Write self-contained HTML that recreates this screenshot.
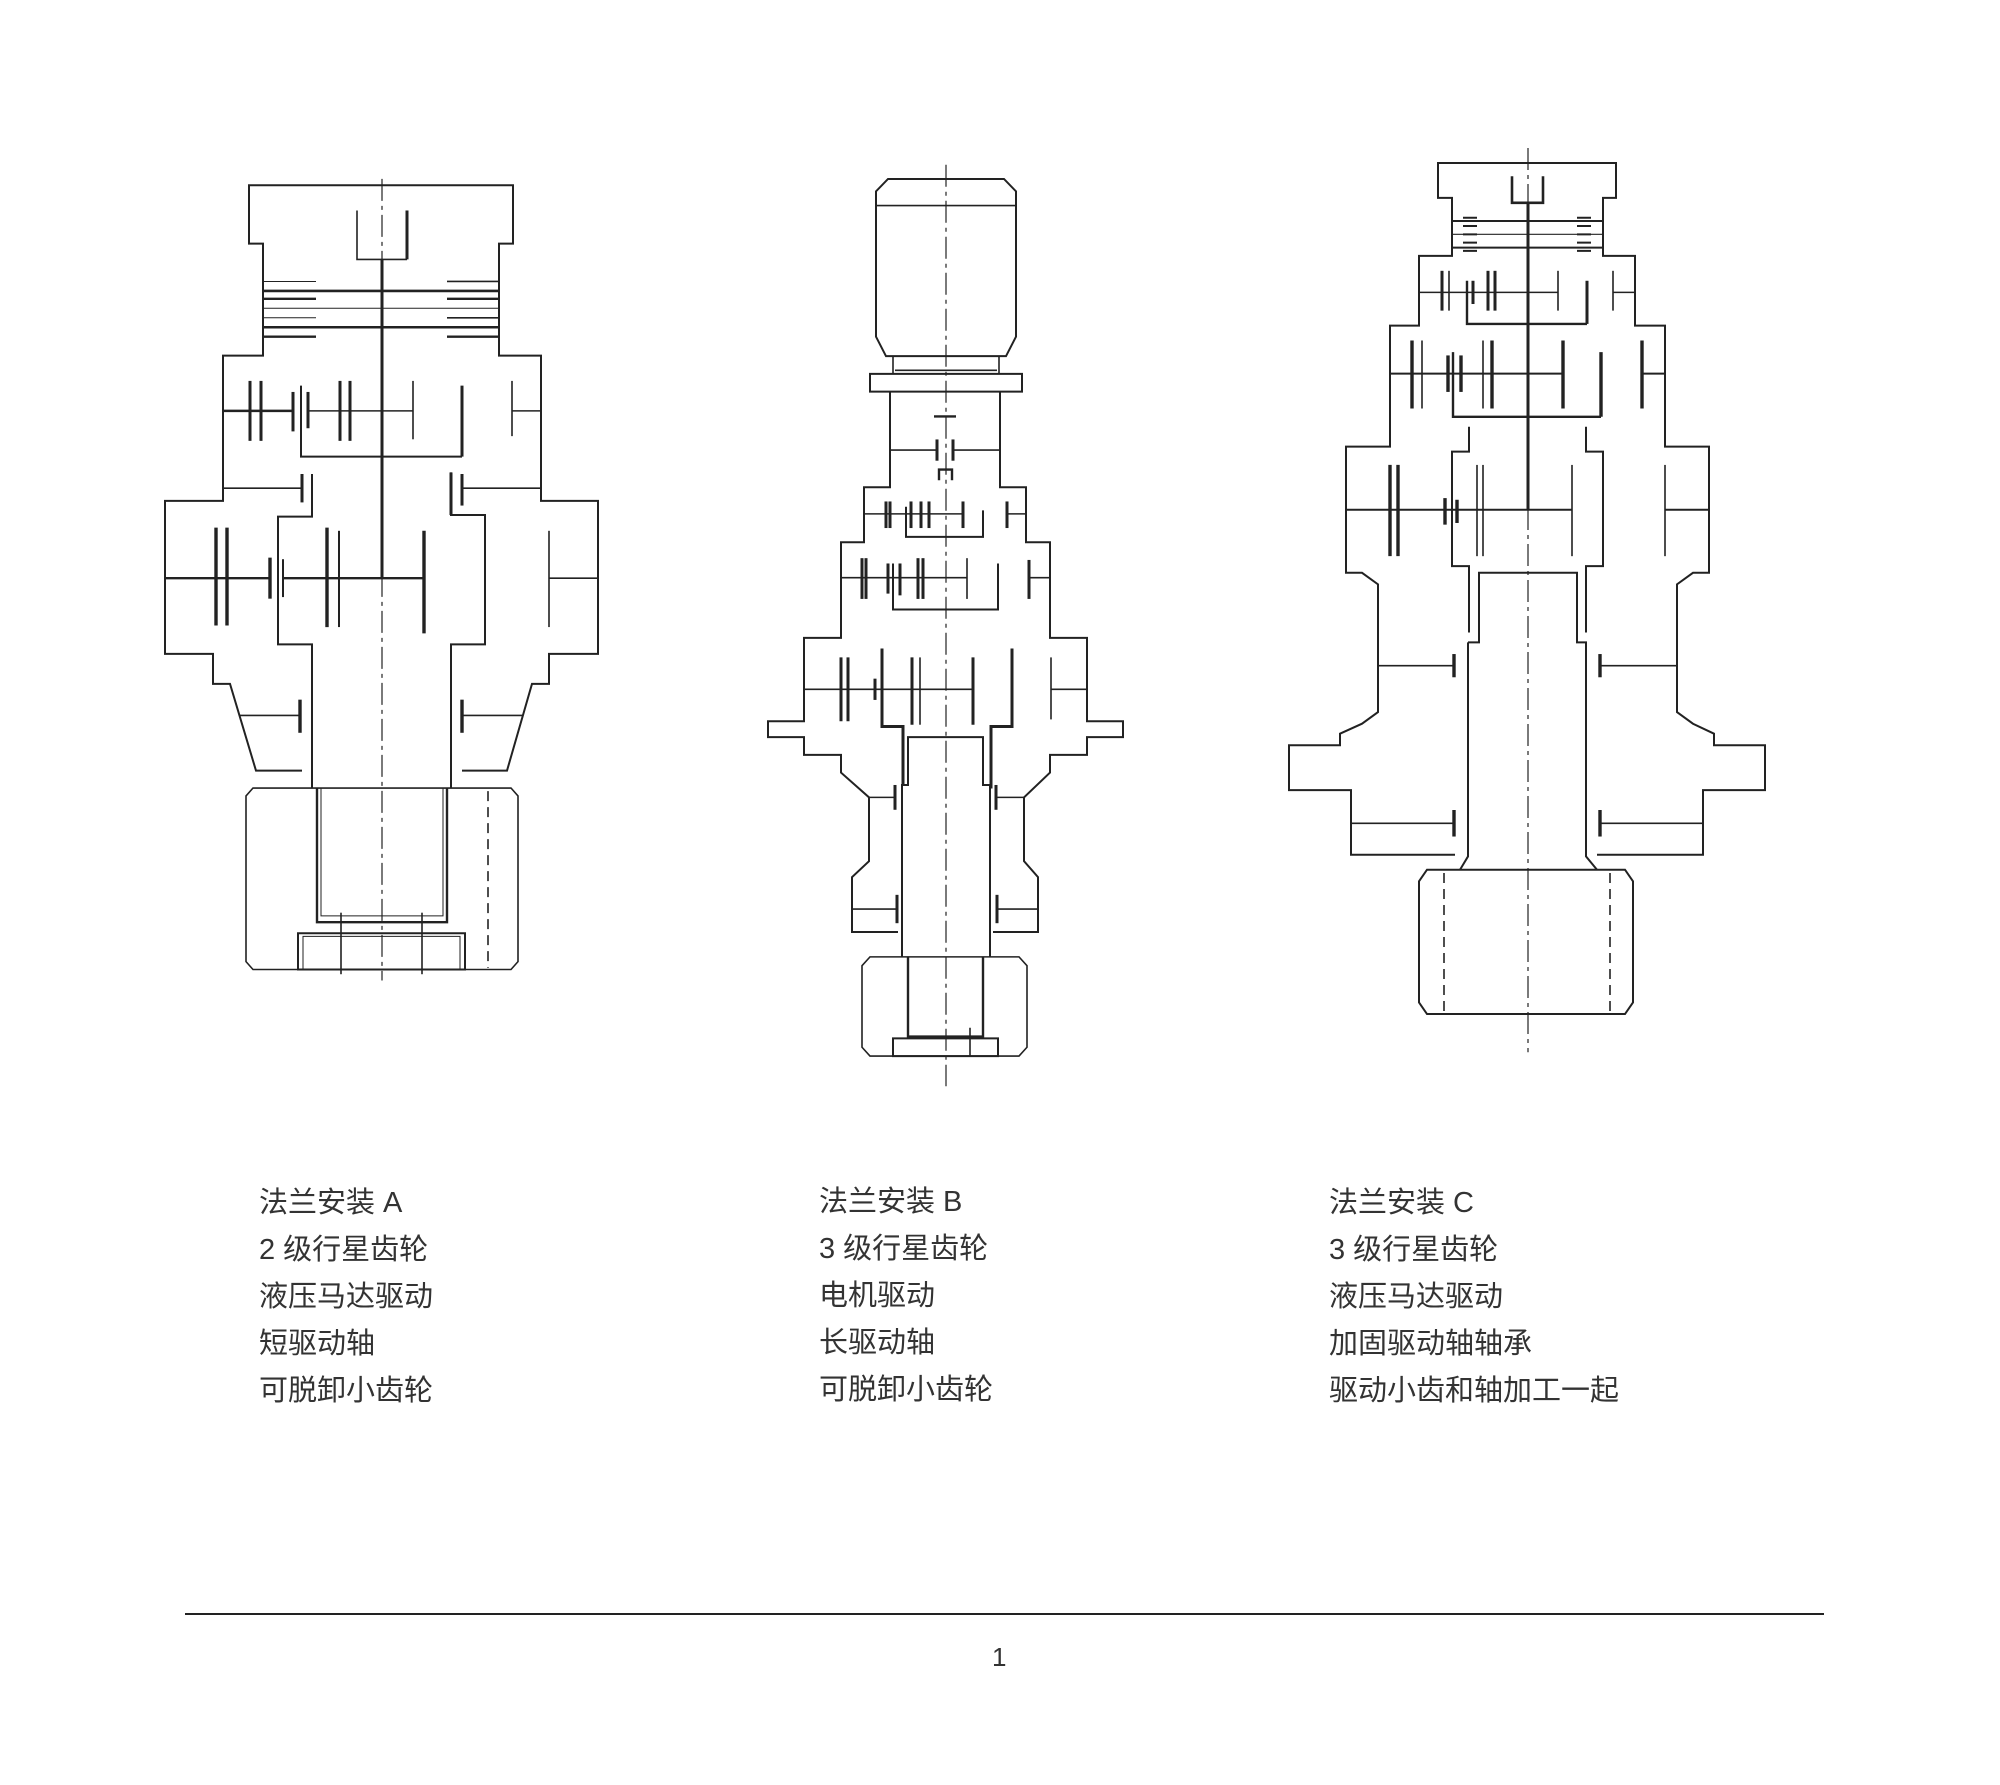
<!DOCTYPE html>
<html><head><meta charset="utf-8"><style>
html,body{margin:0;padding:0;background:#fff}
svg{display:block}
text{font-family:"Liberation Sans","Noto Sans CJK SC",sans-serif;font-size:29px;fill:#333}
.d *{vector-effect:non-scaling-stroke}
</style></head><body>
<svg width="2000" height="1785" viewBox="0 0 2000 1785" xmlns="http://www.w3.org/2000/svg">
<g fill="none" stroke="#222" stroke-width="1.6" stroke-linejoin="miter">
<!-- ============ A ============ -->
<g class="d" transform="matrix(1,0,0,1.578,0,-92.5)">
<path d="M302 547 L256 547 L230 492 L213 492 L213 473 L165 473 L165 376 L223 376 L223 284 L263 284 L263 213 L249 213 L249 176 L513 176 L513 213 L499 213 L499 284 L541 284 L541 376 L598 376 L598 473 L549 473 L549 492 L532 492 L507 547 L462 547" stroke-width="2"/>
<path d="M312 359 L312 386 L278 386 L278 467 L312 467 L312 558" stroke-width="2"/>
<path d="M451 358 L451 385 L485 385 L485 467 L451 467 L451 558" stroke-width="2"/>
<path d="M253 558 L511 558 L518 563 L518 668 L511 673 L253 673 L246 668 L246 563 Z"/>
<path d="M317 558 L317 643 L447 643 L447 558" stroke-width="2.4"/>
<path d="M321 558 L321 639 L443 639 L443 558" stroke-width="1"/>
<rect x="298" y="650" width="167" height="23" stroke-width="2"/>
<rect x="303" y="652" width="157" height="21" stroke-width="1"/>
<line x1="341" y1="637" x2="341" y2="676"/><line x1="422" y1="637" x2="422" y2="676"/>
<line x1="488" y1="560" x2="488" y2="672" stroke-dasharray="10 6"/>
<line x1="382" y1="172" x2="382" y2="680" stroke-dasharray="22 5 4 5" stroke-width="1.2"/>
<line x1="382" y1="223" x2="382" y2="425" stroke-width="3"/>
<path d="M357 192 L357 223 L407 223" /><line x1="407" y1="192" x2="407" y2="223" stroke-width="3"/>
<line x1="263" y1="243" x2="499" y2="243" stroke-width="2.6"/>
<line x1="263" y1="266" x2="499" y2="266" stroke-width="2.6"/>
<line x1="263" y1="254" x2="499" y2="254" stroke-width="1"/>
<line x1="263" y1="237" x2="316" y2="237" stroke-width="1"/><line x1="447" y1="237" x2="499" y2="237"/>
<line x1="263" y1="248" x2="316" y2="248" stroke-width="2.4"/><line x1="447" y1="248" x2="499" y2="248" stroke-width="2.4"/>
<line x1="263" y1="260" x2="316" y2="260" stroke-width="1"/><line x1="447" y1="260" x2="499" y2="260"/>
<line x1="263" y1="272" x2="316" y2="272" stroke-width="2.4"/><line x1="447" y1="272" x2="499" y2="272" stroke-width="2.4"/>
<line x1="223" y1="319" x2="293" y2="319" stroke-width="2.4"/>
<line x1="308" y1="319" x2="413" y2="319"/>
<g stroke-width="3"><line x1="250" y1="300" x2="250" y2="338"/><line x1="261" y1="300" x2="261" y2="338"/><line x1="293" y1="307" x2="293" y2="332"/><line x1="308" y1="307" x2="308" y2="330"/><line x1="340" y1="300" x2="340" y2="338"/><line x1="350" y1="300" x2="350" y2="338"/><line x1="462" y1="303" x2="462" y2="348"/></g>
<line x1="413" y1="300" x2="413" y2="337"/>
<path d="M301 303 L301 348 L462 348" stroke-width="2"/>
<line x1="512" y1="300" x2="512" y2="335"/><line x1="512" y1="319" x2="541" y2="319"/>
<line x1="223" y1="368" x2="302" y2="368"/>
<line x1="302" y1="359" x2="302" y2="377" stroke-width="3"/>
<line x1="451" y1="358" x2="451" y2="385" stroke-width="3"/>
<line x1="462" y1="359" x2="462" y2="379" stroke-width="3"/>
<line x1="462" y1="368" x2="541" y2="368"/>
<line x1="165" y1="425" x2="270" y2="425" stroke-width="2.4"/>
<line x1="283" y1="425" x2="424" y2="425" stroke-width="2.4"/>
<g stroke-width="3.4"><line x1="216" y1="393" x2="216" y2="455"/><line x1="227" y1="393" x2="227" y2="455"/><line x1="270" y1="412" x2="270" y2="438"/><line x1="327" y1="393" x2="327" y2="456"/><line x1="424" y1="395" x2="424" y2="460"/></g>
<line x1="283" y1="413" x2="283" y2="437" stroke-width="2"/>
<line x1="339" y1="395" x2="339" y2="456" stroke-width="2"/>
<line x1="549" y1="395" x2="549" y2="456"/><line x1="549" y1="425" x2="598" y2="425"/>
<line x1="240" y1="512" x2="300" y2="512"/><line x1="300" y1="502" x2="300" y2="523" stroke-width="3.4"/>
<line x1="462" y1="512" x2="523" y2="512"/><line x1="462" y1="502" x2="462" y2="523" stroke-width="3.4"/>
</g>

<!-- ============ B ============ -->
<g class="d" transform="matrix(1,0,0,1.772,0,-127.6)">
<path d="M888 173 L1004 173 L1016 180 L1016 262 L1006 273 L886 273 L876 262 L876 180 Z" stroke-width="2"/>
<line x1="876" y1="188" x2="1016" y2="188"/>
<path d="M893 273 L893 283 M999 273 L999 283 M895 281 L997 281"/>
<path d="M870 283 L1022 283 L1022 293 L870 293 Z" stroke-width="2"/>
<path d="M898 598 L852 598 L852 567 L869 558 L869 522 L841 508 L841 498 L804 498 L804 488 L768 488 L768 479 L804 479 L804 432 L841 432 L841 378 L864 378 L864 347 L890 347 L890 293" stroke-width="2"/>
<path d="M993 598 L1038 598 L1038 567 L1024 558 L1024 522 L1050 508 L1050 498 L1087 498 L1087 488 L1123 488 L1123 479 L1087 479 L1087 432 L1050 432 L1050 378 L1026 378 L1026 347 L1000 347 L1000 293" stroke-width="2"/>
<path d="M902 612 L902 515 L908 515 L908 488 L983 488 L983 515 L990 515 L990 612" stroke-width="2"/>
<path d="M870 612 L1019 612 L1027 617 L1027 663 L1019 668 L870 668 L862 663 L862 617 Z"/>
<path d="M908 612 L908 657 L983 657 L983 612" stroke-width="2.4"/>
<rect x="893" y="658" width="105" height="10" stroke-width="2"/>
<line x1="970" y1="652" x2="970" y2="668"/>
<line x1="946" y1="165" x2="946" y2="685" stroke-dasharray="22 5 4 5" stroke-width="1.2"/>
<line x1="934" y1="307" x2="956" y2="307" stroke-width="2.4"/>
<line x1="890" y1="326" x2="937" y2="326"/><line x1="952" y1="326" x2="1000" y2="326"/>
<line x1="937" y1="320" x2="937" y2="332" stroke-width="3"/><line x1="953" y1="320" x2="953" y2="332" stroke-width="3"/>
<path d="M939 343 L939 337 L952 337 L952 343" stroke-width="2.4"/>
<line x1="864" y1="362" x2="963" y2="362"/>
<g stroke-width="3"><line x1="886" y1="355" x2="886" y2="370"/><line x1="890" y1="355" x2="890" y2="370"/><line x1="911" y1="355" x2="911" y2="370"/><line x1="921" y1="355" x2="921" y2="370"/><line x1="929" y1="355" x2="929" y2="370"/><line x1="963" y1="355" x2="963" y2="370"/><line x1="1007" y1="355" x2="1007" y2="370"/></g>
<path d="M906 358 L906 375 L983 375 L983 360" stroke-width="2"/>
<line x1="1007" y1="362" x2="1026" y2="362"/>
<line x1="841" y1="398" x2="967" y2="398"/>
<g stroke-width="3"><line x1="862" y1="387" x2="862" y2="410"/><line x1="866" y1="387" x2="866" y2="410"/><line x1="888" y1="390" x2="888" y2="407"/><line x1="900" y1="390" x2="900" y2="408"/><line x1="918" y1="387" x2="918" y2="410"/><line x1="923" y1="387" x2="923" y2="410"/><line x1="1029" y1="388" x2="1029" y2="410"/></g>
<line x1="967" y1="387" x2="967" y2="410"/>
<path d="M893 390 L893 416 L998 416 L998 390" stroke-width="2"/>
<line x1="1029" y1="398" x2="1050" y2="398"/>
<line x1="804" y1="461" x2="973" y2="461"/>
<g stroke-width="3"><line x1="841" y1="443" x2="841" y2="479"/><line x1="848" y1="443" x2="848" y2="479"/><line x1="875" y1="455" x2="875" y2="467"/><line x1="912" y1="443" x2="912" y2="481"/><line x1="973" y1="443" x2="973" y2="481"/></g>
<line x1="920" y1="443" x2="920" y2="481"/>
<path d="M882 438 L882 482 L903 482 L903 515" stroke-width="3"/>
<path d="M1012 438 L1012 482 L991 482 L991 517" stroke-width="3"/>
<line x1="1051" y1="443" x2="1051" y2="478"/><line x1="1051" y1="461" x2="1087" y2="461"/>
<line x1="869" y1="522" x2="895" y2="522"/><line x1="895" y1="515" x2="895" y2="529" stroke-width="3"/>
<line x1="996" y1="522" x2="1024" y2="522"/><line x1="996" y1="515" x2="996" y2="529" stroke-width="3"/>
<line x1="852" y1="585" x2="897" y2="585"/><line x1="897" y1="577" x2="897" y2="593" stroke-width="3"/>
<line x1="997" y1="585" x2="1038" y2="585"/><line x1="997" y1="577" x2="997" y2="593" stroke-width="3"/>
</g>

<!-- ============ C ============ -->
<g class="d" transform="matrix(1,0,0,1.659,0,-100.8)">
<path d="M1455 576 L1351 576 L1351 537 L1289 537 L1289 510 L1340 510 L1340 503 L1362 497 L1378 490 L1378 413 L1362 406 L1346 406 L1346 330 L1390 330 L1390 257 L1419 257 L1419 215 L1452 215 L1452 180 L1438 180 L1438 159 L1616 159 L1616 180 L1603 180 L1603 215 L1635 215 L1635 257 L1665 257 L1665 330 L1709 330 L1709 406 L1693 406 L1677 413 L1677 490 L1693 497 L1714 503 L1714 510 L1765 510 L1765 537 L1703 537 L1703 576 L1597 576" stroke-width="2"/>
<path d="M1469 318 L1469 333 L1452 333 L1452 402 L1469 402 L1469 442" stroke-width="2"/>
<path d="M1586 318 L1586 333 L1603 333 L1603 402 L1586 402 L1586 442" stroke-width="2"/>
<path d="M1468 448 L1479 448 L1479 406 L1577 406 L1577 448 L1586 448 L1586 577 L1597 585" stroke-width="2"/>
<path d="M1468 448 L1468 577 L1460 585" stroke-width="2"/>
<path d="M1427 585 L1625 585 L1633 592 L1633 665 L1625 672 L1427 672 L1419 665 L1419 592 Z" stroke-width="2"/>
<line x1="1444" y1="587" x2="1444" y2="672" stroke-dasharray="10 6"/>
<line x1="1610" y1="587" x2="1610" y2="672" stroke-dasharray="10 6"/>
<line x1="1528" y1="150" x2="1528" y2="695" stroke-dasharray="22 5 4 5" stroke-width="1.2"/>
<line x1="1528" y1="183" x2="1528" y2="368" stroke-width="3"/>
<path d="M1512 167 L1512 183 L1543 183 L1543 167" stroke-width="2.6"/>
<line x1="1452" y1="194" x2="1603" y2="194" stroke-width="2"/>
<line x1="1452" y1="202" x2="1603" y2="202" stroke-width="1.2"/>
<line x1="1452" y1="210" x2="1603" y2="210" stroke-width="2"/>
<g stroke-width="2"><path d="M1463 192h14M1463 197h14M1463 202h14M1463 207h14M1463 212h14M1577 192h14M1577 197h14M1577 202h14M1577 207h14M1577 212h14"/></g>
<line x1="1419" y1="237" x2="1558" y2="237"/>
<g stroke-width="3"><line x1="1442" y1="224" x2="1442" y2="248"/><line x1="1473" y1="230" x2="1473" y2="244"/><line x1="1488" y1="224" x2="1488" y2="248"/><line x1="1495" y1="224" x2="1495" y2="248"/><line x1="1587" y1="230" x2="1587" y2="256"/></g>
<line x1="1449" y1="224" x2="1449" y2="248"/><line x1="1558" y1="224" x2="1558" y2="248"/>
<path d="M1467 230 L1467 256 L1587 256" stroke-width="2.4"/>
<line x1="1613" y1="224" x2="1613" y2="248"/><line x1="1613" y1="237" x2="1635" y2="237"/>
<line x1="1390" y1="286" x2="1563" y2="286" stroke-width="2"/>
<g stroke-width="3.4"><line x1="1412" y1="266" x2="1412" y2="307"/><line x1="1448" y1="275" x2="1448" y2="297"/><line x1="1461" y1="275" x2="1461" y2="297"/><line x1="1492" y1="266" x2="1492" y2="307"/><line x1="1563" y1="266" x2="1563" y2="307"/><line x1="1601" y1="273" x2="1601" y2="312"/><line x1="1642" y1="266" x2="1642" y2="307"/></g>
<line x1="1422" y1="266" x2="1422" y2="307"/><line x1="1483" y1="266" x2="1483" y2="307"/>
<path d="M1453 273 L1453 312 L1601 312" stroke-width="2.4"/>
<line x1="1642" y1="286" x2="1665" y2="286" stroke-width="2"/>
<line x1="1346" y1="368" x2="1572" y2="368" stroke-width="2"/>
<g stroke-width="3.4"><line x1="1390" y1="341" x2="1390" y2="396"/><line x1="1398" y1="341" x2="1398" y2="396"/><line x1="1445" y1="361" x2="1445" y2="377"/><line x1="1457" y1="362" x2="1457" y2="376"/></g>
<line x1="1477" y1="341" x2="1477" y2="396"/><line x1="1483" y1="341" x2="1483" y2="396"/><line x1="1572" y1="341" x2="1572" y2="396"/>
<line x1="1665" y1="341" x2="1665" y2="396"/><line x1="1665" y1="368" x2="1709" y2="368" stroke-width="2"/>
<line x1="1378" y1="462" x2="1454" y2="462"/><line x1="1454" y1="455" x2="1454" y2="469" stroke-width="3.4"/>
<line x1="1600" y1="462" x2="1677" y2="462"/><line x1="1600" y1="455" x2="1600" y2="469" stroke-width="3.4"/>
<line x1="1351" y1="557" x2="1454" y2="557"/><line x1="1454" y1="549" x2="1454" y2="565" stroke-width="3.4"/>
<line x1="1600" y1="557" x2="1703" y2="557"/><line x1="1600" y1="549" x2="1600" y2="565" stroke-width="3.4"/>
</g>

<line x1="185" y1="1614" x2="1824" y2="1614" stroke-width="2"/>
</g>
<text x="259" y="1212">法兰安装 A</text>
<text x="259" y="1259">2 级行星齿轮</text>
<text x="259" y="1306">液压马达驱动</text>
<text x="259" y="1353">短驱动轴</text>
<text x="259" y="1400">可脱卸小齿轮</text>
<text x="819" y="1211">法兰安装 B</text>
<text x="819" y="1258">3 级行星齿轮</text>
<text x="819" y="1305">电机驱动</text>
<text x="819" y="1352">长驱动轴</text>
<text x="819" y="1399">可脱卸小齿轮</text>
<text x="1329" y="1212">法兰安装 C</text>
<text x="1329" y="1259">3 级行星齿轮</text>
<text x="1329" y="1306">液压马达驱动</text>
<text x="1329" y="1353">加固驱动轴轴承</text>
<text x="1329" y="1400">驱动小齿和轴加工一起</text>
<text x="992" y="1666" style="font-size:26px">1</text>
</svg>
</body></html>
